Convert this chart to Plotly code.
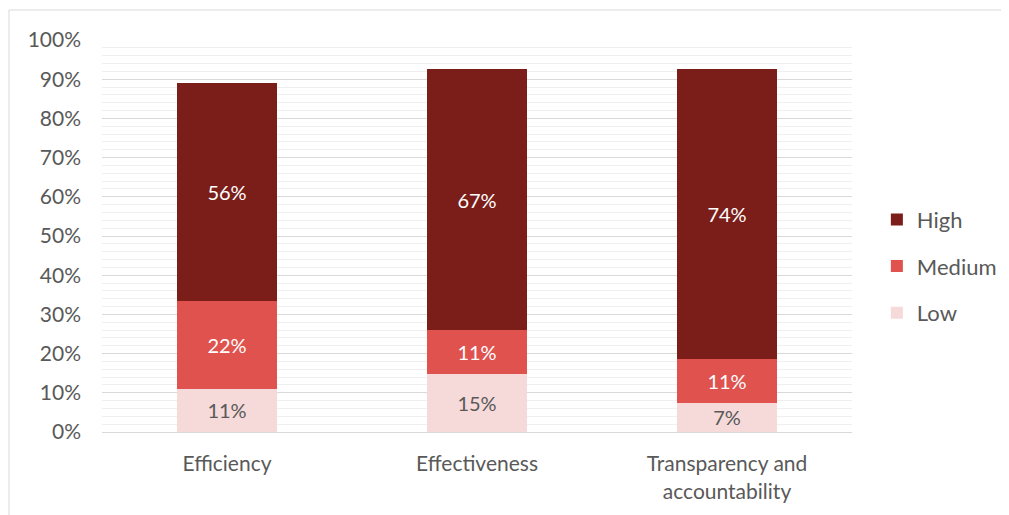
import plotly.graph_objects as go

categories = ["Efficiency", "Effectiveness", "Transparency and<br>accountability"]
low = [0.110, 0.148, 0.074]
medium = [0.224, 0.111, 0.113]
high = [0.556, 0.667, 0.740]
yticks = [i / 10 for i in range(11)]
ytick_labels = [f"{i*10}%" for i in range(11)]

FONT = "Lato, 'Open Sans', sans-serif"
GREY = "#595959"

fig = go.Figure()
series = [
    ("Low", low, "#F6DADA", GREY, 3),
    ("Medium", medium, "#DF524E", "white", 2),
    ("High", high, "#7B1E1A", "white", 1),
]
for name, vals, col, tcol, rank in series:
    fig.add_trace(go.Bar(
        name=name, x=categories, y=vals, marker_color=col, marker_line_width=0,
        text=[f"{round(v*100)}%" for v in vals], textposition="inside",
        insidetextanchor="middle", textfont=dict(color=tcol, size=20, family=FONT),
        legendgroup=name, legendrank=rank, hoverinfo="skip",
    ))

fig.update_layout(
    width=1001, height=507, barmode="stack", bargap=0.6,
    margin=dict(l=94, r=157, t=32, b=83, autoexpand=False),
    paper_bgcolor="white", plot_bgcolor="white",
    font=dict(family=FONT, color=GREY, size=18),
    uniformtext=dict(minsize=20, mode="show"),
    legend=dict(xref="container", x=0.868, y=0.423, yanchor="middle", xanchor="left",
                traceorder="grouped", tracegroupgap=15,
                font=dict(size=22, color=GREY, family=FONT), itemwidth=30),
    showlegend=True,
)
fig.update_yaxes(range=[0, 1], tickvals=yticks, ticktext=ytick_labels,
                 showgrid=True, gridcolor="#d9d9d9", gridwidth=1, zeroline=False,
                 minor=dict(dtick=0.02, showgrid=True, gridcolor="#efefef", gridwidth=1),
                 ticks="", ticklabelstandoff=20, tickfont=dict(size=21, color=GREY))
fig.update_xaxes(showline=True, linecolor="#d9d9d9", linewidth=1, ticks="",
                 ticklabelstandoff=13, tickfont=dict(size=21, color=GREY))

# outer chart border (top and left edges visible)
fig.add_shape(type="rect", xref="paper", yref="paper",
              x0=(9 - 102) / 750, x1=(1030 - 102) / 750,
              y0=(432 - 540) / 392, y1=(432 - 10) / 392,
              line=dict(color="#d9d9d9", width=1), fillcolor="rgba(0,0,0,0)", layer="below")

fig.write_html("out.html")
